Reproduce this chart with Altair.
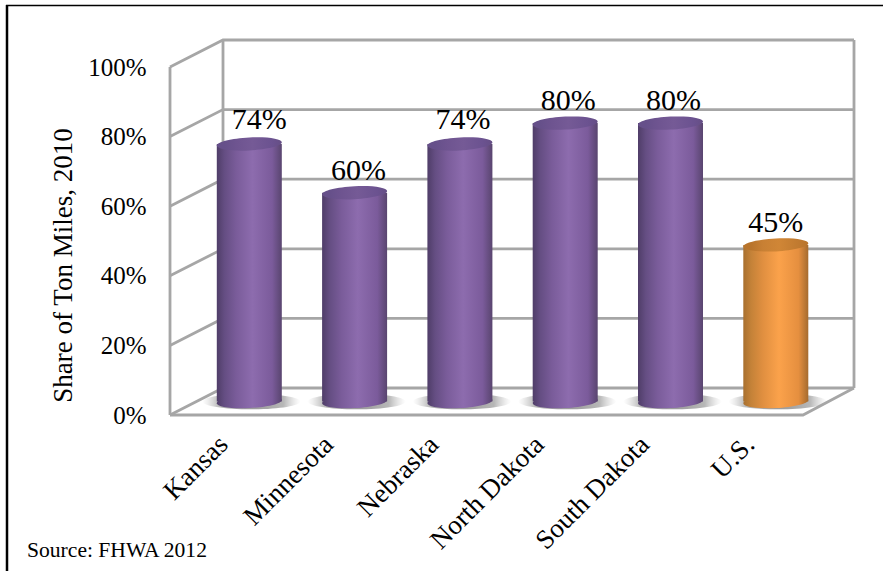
import altair as alt
import pandas as pd

# Chart values
states = ["Kansas", "Minnesota", "Nebraska", "North Dakota", "South Dakota", "U.S."]
shares = [74, 60, 74, 80, 80, 45]
share_ticks = [0, 20, 40, 60, 80, 100]

# Plot geometry in pixels
LEFT, TOP, PLOT_W, PLOT_H = 170, 41, 684, 374
STEP = 105.3                 # pixels between neighbouring cylinders
FIRST = 79.3                 # first cylinder centre from the plot's left edge
PX_PER_PCT = 3.48
DEPTH_X, DEPTH_Y = 53, 27    # box depth in pixels
BAR_W = 65
BAR_LIFT = -13.5             # cylinders stand halfway into the floor

dx = DEPTH_X / STEP
dv = DEPTH_Y / PX_PER_PCT
x_min, x_max = -FIRST / STEP, (PLOT_W - FIRST) / STEP
x_front_right = (803 - LEFT - FIRST) / STEP

x_scale = alt.Scale(domain=[x_min, x_max], range=[0, PLOT_W], nice=False, zero=False)
y_scale = alt.Scale(domain=[0, PLOT_H / PX_PER_PCT], range=[PLOT_H, 0], nice=False, zero=False)

# Box outline: one polyline per wall edge
segments = []
def seg(name, pts):
    for i, (x, v) in enumerate(pts):
        segments.append({"seg": name, "i": i, "x": x, "v": v})

back_right = x_max
back_left = x_min + dx
for t in share_ticks:
    seg(f"grid{t}", [(x_min, t), (back_left, t + dv), (back_right, t + dv)])
seg("front-post", [(x_min, 0), (x_min, 100)])
seg("back-post", [(back_left, dv), (back_left, 100 + dv)])
seg("right-post", [(back_right, dv), (back_right, 100 + dv)])
seg("floor", [(x_min, 0), (x_front_right, 0), (back_right, dv)])
walls = (
    alt.Chart(pd.DataFrame(segments))
    .mark_line(color="#a6a6a6", strokeWidth=2.8, clip=False, strokeJoin="miter")
    .encode(
        x=alt.X("x:Q", scale=x_scale, axis=alt.Axis(
            values=list(range(len(states))),
            labelExpr="{0:'Kansas',1:'Minnesota',2:'Nebraska',3:'North Dakota',4:'South Dakota',5:'U.S.'}[datum.value]",
            title=None, grid=False, domain=False, ticks=False,
            labelAngle=-45, labelAlign="right", labelBaseline="middle",
            labelFont="Liberation Serif", labelFontSize=27, labelColor="black",
            labelPadding=25, labelOffset=-26, labelOverlap=False, labelBound=False, labelFlush=False,
        )),
        y=alt.Y("v:Q", scale=y_scale, axis=alt.Axis(
            values=share_ticks, labelExpr="datum.value + '%'",
            title="Share of Ton Miles, 2010", titleFont="Liberation Serif", titleFontSize=27,
            titleFontWeight="normal", titleColor="black", titleX=-93, titleY=224,
            grid=False, domain=False, ticks=False, labelPadding=24,
            labelFont="Liberation Serif", labelFontSize=25, labelColor="black",
        )),
        detail="seg:N",
        order="i:Q",
    )
)

data = pd.DataFrame({"state": states, "share": shares, "pos": range(len(states))})
data["left"] = data["pos"] - BAR_W / 2 / STEP
data["right"] = data["pos"] + BAR_W / 2 / STEP
data["floor"] = 0


def side_gradient(edge, dark, mid, peak, mid2, edge2):
    return alt.LinearGradient(
        gradient="linear", x1=0, x2=1, y1=0, y2=0,
        stops=[
            alt.GradientStop(color=edge, offset=0),
            alt.GradientStop(color=dark, offset=0.12),
            alt.GradientStop(color=mid, offset=0.3),
            alt.GradientStop(color=peak, offset=0.55),
            alt.GradientStop(color=mid2, offset=0.85),
            alt.GradientStop(color=edge2, offset=1),
        ],
    )


def ellipse_path(ry, tilt):
    """Unit-width ellipse outline, leaning upward to the right."""
    k = 0.5523
    p = [(-1, 0), (-1, -k * ry), (-k, -ry), (0, -ry), (k, -ry), (1, -k * ry), (1, 0),
         (1, k * ry), (k, ry), (0, ry), (-k, ry), (-1, k * ry), (-1, 0)]
    q = [(x, y - tilt * x) for x, y in p]
    s = f"M{q[0][0]:.4f},{q[0][1]:.4f}"
    for i in range(1, len(q), 3):
        s += "C" + " ".join(f"{a:.4f},{b:.4f}" for a, b in q[i:i + 3])
    return s + "Z"


ELLIPSE = ellipse_path(0.2, 0.05)
SHADOW = ellipse_path(0.16, 0)
shadow_fill = alt.RadialGradient(
    gradient="radial", r1=0, r2=0.5, x1=0.5, x2=0.5, y1=0.5, y2=0.5,
    stops=[
        alt.GradientStop(color="rgba(120,120,120,0.8)", offset=0),
        alt.GradientStop(color="rgba(135,135,135,0.6)", offset=0.66),
        alt.GradientStop(color="rgba(180,180,180,0)", offset=1),
    ],
)

x_enc = alt.X("pos:Q", scale=x_scale)
shadows = alt.Chart(data).mark_point(
    shape=SHADOW, filled=True, fill=shadow_fill, size=98 ** 2, opacity=1, yOffset=BAR_LIFT, xOffset=2, strokeWidth=0,
).encode(x=x_enc, y=alt.Y("floor:Q", scale=y_scale))


def cylinder(rows, body, cap):
    base = alt.Chart(rows)
    side = base.mark_bar(fill=body, yOffset=BAR_LIFT, y2Offset=BAR_LIFT, clip=False).encode(
        x=alt.X("left:Q", scale=x_scale), x2="right:Q",
        y=alt.Y("share:Q", scale=y_scale), y2="floor:Q",
    )
    foot = base.mark_point(
        shape=ELLIPSE, filled=True, fill=body, size=BAR_W ** 2, opacity=1, yOffset=BAR_LIFT, strokeWidth=0,
    ).encode(x=x_enc, y=alt.Y("floor:Q", scale=y_scale))
    top = base.mark_point(
        shape=ELLIPSE, filled=True, fill=cap, size=BAR_W ** 2, opacity=1, yOffset=BAR_LIFT, strokeWidth=0,
    ).encode(x=x_enc, y=alt.Y("share:Q", scale=y_scale))
    return foot + side + top


purple = cylinder(
    data[data["state"] != "U.S."],
    side_gradient("#4f3d68", "#654e83", "#7a5c9a", "#8d6cae", "#7b5b9b", "#59456f"),
    side_gradient("#66508a", "#66508a", "#6e5490", "#755a96", "#6b5290", "#654e85"),
)
orange = cylinder(
    data[data["state"] == "U.S."],
    side_gradient("#a8702f", "#c48238", "#e08f40", "#fba24b", "#e58f3f", "#a56b2e"),
    side_gradient("#b8742c", "#b8742c", "#c88034", "#d08636", "#c07a30", "#b8742c"),
)

# Value labels, each nudged clear of its cylinder's cap
nudges = {"Kansas": (10, -15), "Minnesota": (4, -13), "Nebraska": (3, -15),
          "North Dakota": (3, -13), "South Dakota": (3, -13), "U.S.": (0, -13)}
labels = []
for state, (ox, oy) in nudges.items():
    labels.append(
        alt.Chart(data[data["state"] == state])
        .transform_calculate(label="datum.share + '%'")
        .mark_text(font="Liberation Serif", fontSize=30, color="black", baseline="alphabetic",
                   align="center", dx=ox, dy=oy + BAR_LIFT, clip=False)
        .encode(x=x_enc, y=alt.Y("share:Q", scale=y_scale), text="label:N")
    )

# Outer frame (top and left edges only) and source note, placed relative to the plot area
frame_rows = pd.DataFrame({"k": [0]})
frame = alt.Chart(frame_rows)
frame_left = frame.mark_rule(color="black", strokeWidth=2.5, clip=False).encode(
    x=alt.value(7 - LEFT), y=alt.value(5 - TOP), y2=alt.value(571 - TOP))
frame_top = frame.mark_rule(color="black", strokeWidth=1.5, clip=False).encode(
    x=alt.value(6 - LEFT), x2=alt.value(883 - LEFT), y=alt.value(5.5 - TOP))
source = frame.mark_text(text="Source: FHWA 2012", font="Liberation Serif", fontSize=21.6, color="black",
                         align="left", baseline="alphabetic", clip=False).encode(
    x=alt.value(27 - LEFT), y=alt.value(557 - TOP))

chart = alt.layer(walls, shadows, purple, orange, *labels, frame_left, frame_top, source).properties(
    width=PLOT_W, height=PLOT_H,
    padding={"left": LEFT, "top": TOP, "right": 883 - LEFT - PLOT_W, "bottom": 571 - TOP - PLOT_H},
    autosize=alt.AutoSizeParams(type="none"),
    background="white",
).configure_view(stroke=None)

chart.save("out.html", embed_options={"renderer": "svg", "actions": False})
